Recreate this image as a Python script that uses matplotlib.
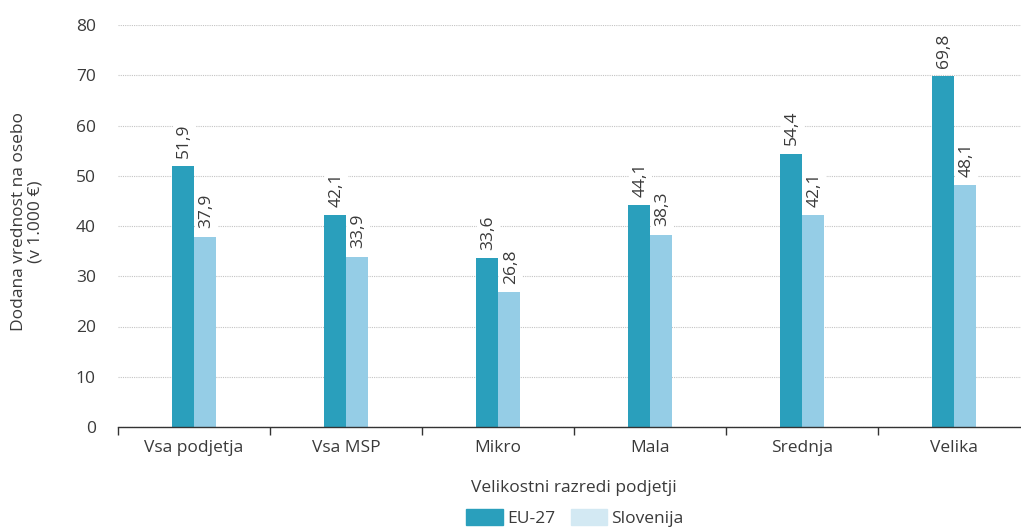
import matplotlib
matplotlib.use("Agg")
import matplotlib.pyplot as plt
from matplotlib.patches import Patch
import numpy as np

plt.rcParams['font.family'] = ['Open Sans', 'DejaVu Sans']

categories = ["Vsa podjetja", "Vsa MSP", "Mikro", "Mala", "Srednja", "Velika"]
eu27 = [51.9, 42.1, 33.6, 44.1, 54.4, 69.8]
slovenija = [37.9, 33.9, 26.8, 38.3, 42.1, 48.1]
series_names = ["EU-27", "Slovenija"]
y_ticks = [0, 10, 20, 30, 40, 50, 60, 70, 80]

col_eu = "#2a9fbc"
col_si = "#95cde6"
col_si_legend = "#d3e9f3"
txt = "#3a3a3a"

W, H = 1021, 531
fig = plt.figure(figsize=(W / 100, H / 100), dpi=100)
ax = fig.add_axes([118 / W, (H - 427) / H, (1030 - 118) / W, (427 - 25) / H])

x = np.arange(len(categories))
bw = 0.148
b1 = ax.bar(x - bw / 2, eu27, bw, color=col_eu, zorder=2)
b2 = ax.bar(x + bw / 2, slovenija, bw, color=col_si, zorder=2)

fs = 12.5
for bars, vals in ((b1, eu27), (b2, slovenija)):
    for r, v in zip(bars, vals):
        ax.annotate(f"{v:.1f}".replace(".", ","),
                    (r.get_x() + r.get_width() / 2, v),
                    xytext=(1, 6), textcoords="offset points",
                    rotation=90, ha="center", va="bottom",
                    fontsize=fs, color=txt, zorder=4,
                    bbox=dict(boxstyle="square,pad=0.2", fc="white", ec="none"))

ax.set_xlim(-0.5, len(categories) - 0.5)
ax.set_ylim(0, 80)
ax.set_yticks(y_ticks)
ax.yaxis.grid(True, linestyle=(0, (1, 1)), color="#c4c4c4", linewidth=0.8, zorder=0)
ax.set_axisbelow(True)
ax.tick_params(axis="y", length=0, pad=16, labelsize=fs, labelcolor=txt)

ax.set_xticks(np.arange(len(categories) + 1) - 0.5)
ax.set_xticklabels([])
ax.set_xticks(x, minor=True)
ax.set_xticklabels(categories, minor=True)
ax.tick_params(axis="x", which="major", length=6, width=1, color="#333333", direction="out")
ax.tick_params(axis="x", which="minor", length=0, pad=9, labelsize=fs, labelcolor=txt)

for s in ("left", "right", "top"):
    ax.spines[s].set_visible(False)
ax.spines["bottom"].set_color("#333333")
ax.spines["bottom"].set_linewidth(1)

ax.set_xlabel("Velikostni razredi podjetji", fontsize=fs, color=txt, labelpad=18)
fig.text(27 / W, 1 - 222 / H, "Dodana vrednost na osebo\n(v 1.000 €)",
         rotation=90, ha="center", va="center", fontsize=fs, color=txt,
         multialignment="center", linespacing=1.0)

handles = [Patch(color=col_eu), Patch(color=col_si_legend)]
fig.legend(handles, series_names, loc="upper center",
           bbox_to_anchor=(575 / W, 1 - 497 / H), ncol=2, frameon=False,
           fontsize=fs, labelcolor=txt, handlelength=2.1, handleheight=1.05,
           handletextpad=0.25, columnspacing=0.9, borderpad=0.2)

fig.savefig("out.png", dpi=100)
